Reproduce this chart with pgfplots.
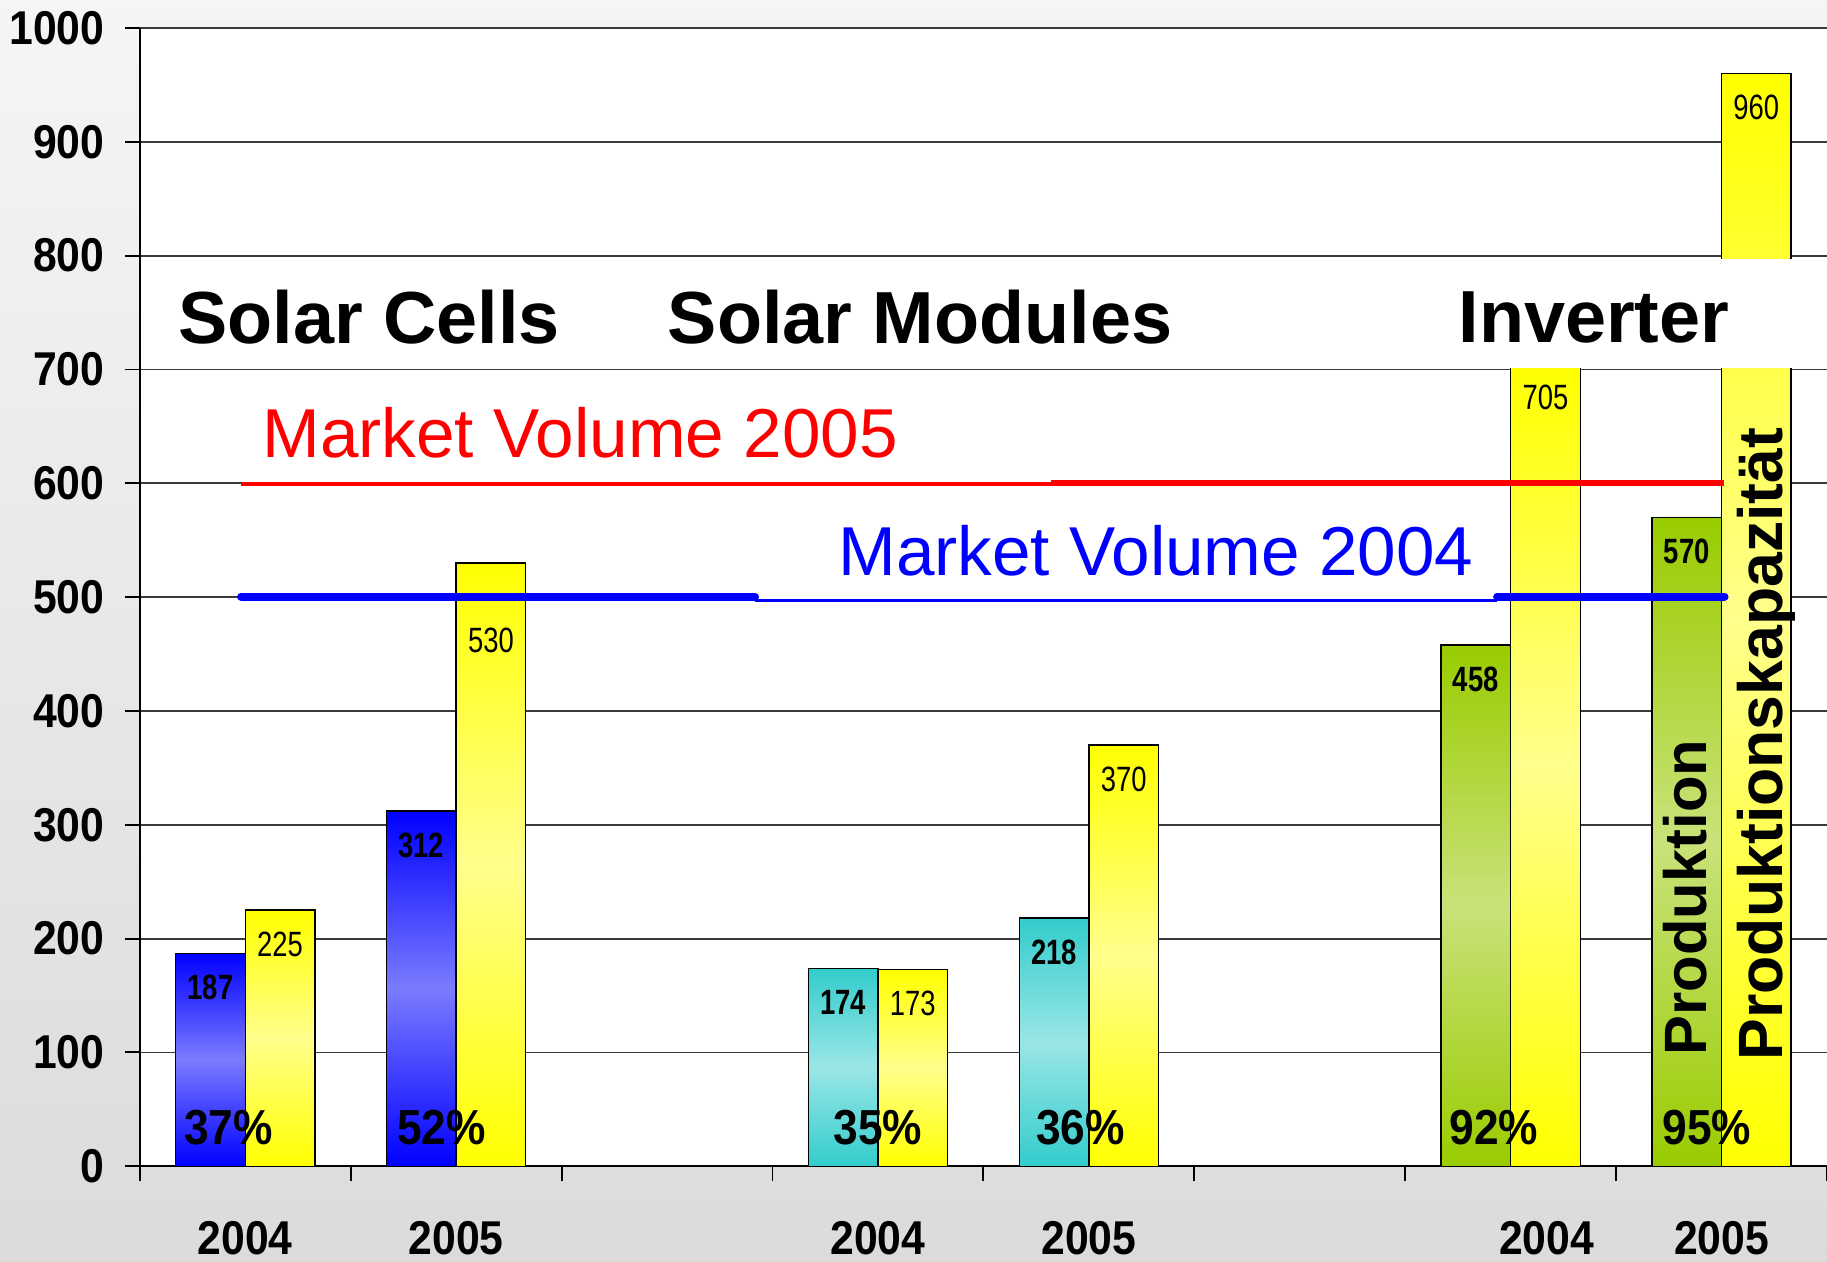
\documentclass[border=0pt]{standalone}
\usepackage{pgfplots}
\pgfplotsset{compat=1.18}
\usepackage{fontspec}
\setmainfont{Liberation Sans}
\newfontfamily\narrowfont[FakeStretch=0.9]{Liberation Sans}
\newfontfamily\vnarrowfont[FakeStretch=0.78]{Liberation Sans}
\definecolor{bluetop}{HTML}{0000FF}
\definecolor{bluemid}{HTML}{7B7BFF}
\definecolor{cyantop}{HTML}{33CCCC}
\definecolor{cyanmid}{HTML}{9AE6E6}
\definecolor{greentop}{HTML}{99CC00}
\definecolor{greenmid}{HTML}{C9E27A}
\definecolor{yeltop}{HTML}{FFFF00}
\definecolor{yelmid}{HTML}{FFFF8C}
\definecolor{gridc}{HTML}{3A3A3A}
\pgfplotsset{
  barbase/.style={ybar, draw=black, line width=0.4pt, nodes near coords,
    every node near coord/.append style={text=black, anchor=center, yshift=-3.4mm}},
  leftbar/.style={barbase, bar shift=-0.165,
    every node near coord/.append style={xshift=-3.48mm, font=\vnarrowfont\fontsize{10}{10}\selectfont\bfseries}},
  rightbar/.style={barbase, bar shift=0.165, top color=yeltop, bottom color=yeltop, middle color=yelmid,
    every node near coord/.append style={xshift=3.48mm, font=\vnarrowfont\fontsize{10}{10}\selectfont}},
  blueshade/.style={top color=bluetop, bottom color=bluetop, middle color=bluemid},
  cyanshade/.style={top color=cyantop, bottom color=cyantop, middle color=cyanmid},
  greenshade/.style={top color=greentop, bottom color=greentop, middle color=greenmid},
}
\begin{document}
\begin{tikzpicture}
\shade[top color=black!4, bottom color=black!14] (0,0) rectangle (182.7mm,126.2mm);
\useasboundingbox (0,0) rectangle (182.7mm,126.2mm);
\begin{axis}[
  at={(13.98mm,9.57mm)}, anchor=south west,
  width=168.72mm, height=113.83mm, scale only axis,
  xmin=-0.5, xmax=7.5, ymin=0, ymax=1000,
  enlargelimits=false,
  axis background/.style={fill=white},
  axis x line=bottom, axis y line=left,
  axis line style={-, line width=0.55pt, black},
  ytick={0,100,...,1000},
  ymajorgrids, grid style={line width=0.5pt, gridc},
  xtick={-0.5,0.5,...,7.5}, xticklabels={},
  tick align=outside, major tick length=1.5mm,
  tick style={black, line width=0.55pt},
  yticklabel style={xshift=-0.8mm},
  extra x ticks={0,1,3,4,6.17,7},
  extra x tick labels={2004,2005,2004,2005,2004,2005},
  extra x tick style={major tick length=0pt, xticklabel style={yshift=-4.3mm}},
  /pgf/number format/assume math mode=true,
  /pgf/number format/1000 sep={},
  tick label style={font=\narrowfont\fontsize{13.5}{14}\selectfont\bfseries},
  bar width=0.33,
  clip=false,
]
% production bars (one plot per bar so each bar has its own gradient)
\addplot[leftbar, blueshade] coordinates {(0,187)};
\addplot[leftbar, blueshade] coordinates {(1,312)};
\addplot[leftbar, cyanshade] coordinates {(3,174)};
\addplot[leftbar, cyanshade] coordinates {(4,218)};
\addplot[leftbar, greenshade] coordinates {(6,458)};
\addplot[leftbar, greenshade] coordinates {(7,570)};
% capacity bars
\addplot[rightbar] coordinates {(0,225)};
\addplot[rightbar, every node near coord/.append style={yshift=-4.3mm}] coordinates {(1,530)};
\addplot[rightbar] coordinates {(3,173)};
\addplot[rightbar] coordinates {(4,370)};
\addplot[rightbar] coordinates {(6,705)};
\addplot[rightbar] coordinates {(7,960)};
% white label boxes
\fill[white] (axis cs:4.58,701) rectangle (axis cs:7.5,797);
\fill[white] (axis cs:2.417,497) rectangle (axis cs:5.936,593);
% market volume lines
\addplot[red, line width=1.2pt, sharp plot] coordinates {(-0.02,599.5) (3.82,599.5)};
\addplot[red, line width=1.6pt, sharp plot] coordinates {(3.82,600.5) (7.01,600.5)};
\addplot[blue, line width=2.3pt, line cap=round, sharp plot] coordinates {(-0.02,500.5) (2.417,500.5)};
\addplot[blue, line width=0.7pt, sharp plot] coordinates {(2.417,497) (5.936,497)};
\addplot[blue, line width=2.3pt, line cap=round, sharp plot] coordinates {(5.936,500.5) (7.014,500.5)};
% titles
\node[font=\fontsize{21}{21}\selectfont\bfseries] at (axis cs:0.588,746) {Solar Cells};
\node[font=\fontsize{21}{21}\selectfont\bfseries] at (axis cs:3.20,746) {Solar Modules};
\node[font=\fontsize{21}{21}\selectfont\bfseries] at (axis cs:6.395,746) {Inverter};
\node[red, font=\fontsize{19.7}{19.7}\selectfont] at (axis cs:1.588,644) {Market Volume 2005};
\node[blue, font=\fontsize{19.7}{19.7}\selectfont] at (axis cs:4.318,541) {Market Volume 2004};
% percentages
\node[font=\narrowfont\fontsize{14}{14}\selectfont\bfseries] at (axis cs:-0.08,34) {37\%};
\node[font=\narrowfont\fontsize{14}{14}\selectfont\bfseries] at (axis cs:0.93,34) {52\%};
\node[font=\narrowfont\fontsize{14}{14}\selectfont\bfseries] at (axis cs:3.0,34) {35\%};
\node[font=\narrowfont\fontsize{14}{14}\selectfont\bfseries] at (axis cs:3.96,34) {36\%};
\node[font=\narrowfont\fontsize{14}{14}\selectfont\bfseries] at (axis cs:5.92,34) {92\%};
\node[font=\narrowfont\fontsize{14}{14}\selectfont\bfseries] at (axis cs:6.93,34) {95\%};
\node[rotate=90, font=\fontsize{17}{17}\selectfont\bfseries] at (axis cs:6.826,236) {Produktion};
\node[rotate=90, font=\fontsize{17.8}{17.8}\selectfont\bfseries] at (axis cs:7.21,371) {Produktionskapazität};
\end{axis}
\end{tikzpicture}
\end{document}
